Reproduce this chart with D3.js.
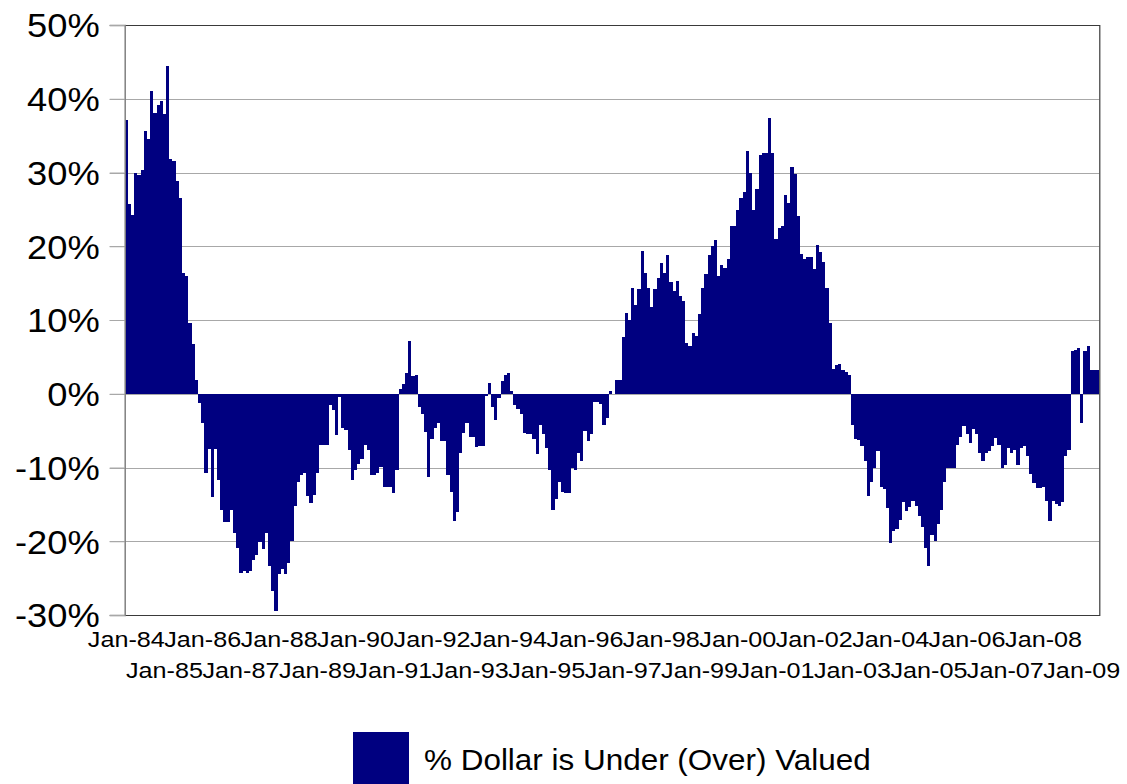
<!DOCTYPE html>
<html>
<head>
<meta charset="utf-8">
<script src="https://cdnjs.cloudflare.com/ajax/libs/d3/7.8.5/d3.min.js"></script>
<style>
  html, body { margin: 0; padding: 0; background: #fff; }
  svg { display: block; }
  text { font-family: "Liberation Sans", Arial, sans-serif; fill: #000; }
</style>
</head>
<body>
<svg id="chart" width="1127" height="784"></svg>
<script>
// Monthly categories: Jan-84 .. Jun-09
const firstMonth = new Date(1984, 0, 1);
const lastMonthExclusive = new Date(2009, 6, 1);

// % Dollar is Under (Over) Valued, one value per month
const values1984to1988 = [
  37.1, 25.7, 24.2, 30.0, 29.7, 30.4, 35.6, 34.5, 41.1, 38.1, 39.1, 39.7,
  37.9, 44.4, 31.8, 31.5, 28.8, 26.5, 16.4, 15.9, 9.6, 6.7, 1.8, -1.3,
  -3.9, -10.7, -7.5, -14.0, -7.5, -11.7, -15.8, -17.4, -17.4, -15.7, -18.9, -20.9,
  -24.3, -24.1, -24.3, -24.1, -22.6, -21.9, -20.1, -21.1, -18.9, -23.4, -26.8, -29.4,
  -24.5, -23.7, -24.4, -22.9, -20.0, -15.2, -11.9, -11.0, -10.7, -13.9, -14.8, -13.7
];
const values1989to1993 = [
  -10.7, -6.9, -6.9, -6.9, -1.5, -2.2, -5.6, -0.4, -4.7, -4.9, -7.6, -11.7,
  -10.4, -9.5, -8.8, -7.0, -7.6, -11.0, -11.0, -10.7, -9.9, -12.6, -12.6, -12.6,
  -13.5, -10.4, 0.6, 1.3, 2.8, 7.1, 2.4, 2.6, -1.8, -2.7, -5.2, -11.3,
  -6.1, -4.6, -3.9, -6.4, -6.4, -11.0, -13.3, -17.2, -16.0, -8.1, -5.3, -4.0,
  -5.8, -5.8, -7.2, -7.1, -7.1, -0.3, 1.5, -1.8, -3.6, -0.6, 1.7, 2.5
];
const values1994to1998 = [
  2.85, 0.4, -1.5, -2.0, -2.8, -5.3, -5.4, -5.5, -6.1, -8.2, -4.3, -5.5,
  -7.3, -10.4, -15.7, -14.3, -12.0, -13.3, -13.4, -13.4, -10.0, -10.3, -8.0, -9.1,
  -5.1, -6.4, -5.4, -1.1, -1.1, -1.4, -4.3, -3.3, 0.4, -0.1, 1.9, 1.9,
  7.7, 10.9, 10.0, 14.4, 12.1, 14.2, 19.4, 16.4, 14.4, 11.7, 14.2, 15.7,
  17.7, 16.4, 18.8, 15.1, 13.9, 15.3, 13.3, 12.6, 6.9, 6.5, 8.3, 7.8
];
const values1999to2003 = [
  10.8, 14.3, 16.3, 18.8, 20.0, 20.9, 16.0, 17.5, 17.0, 18.3, 22.8, 22.7,
  24.9, 26.5, 27.4, 32.9, 29.9, 24.9, 27.7, 32.4, 32.7, 32.7, 37.4, 32.6,
  21.0, 22.5, 22.8, 27.0, 25.9, 30.7, 29.8, 24.1, 18.9, 18.3, 18.6, 18.6,
  16.9, 20.2, 19.2, 17.9, 14.3, 9.6, 3.4, 3.9, 4.1, 3.2, 2.9, 2.5,
  -4.2, -6.1, -6.3, -7.1, -9.1, -13.8, -12.0, -10.1, -7.8, -12.7, -12.9, -15.5
];
const values2004to2009 = [
  -20.2, -18.6, -18.4, -17.1, -14.7, -15.9, -15.3, -14.6, -15.2, -16.6, -18.0, -20.9,
  -23.4, -19.1, -20.0, -17.7, -15.8, -11.9, -10.1, -10.0, -10.0, -7.0, -5.8, -4.4,
  -5.5, -6.7, -4.8, -5.5, -8.1, -9.1, -8.1, -7.7, -7.1, -6.0, -6.9, -10.0,
  -9.6, -7.3, -8.1, -7.6, -9.6, -7.3, -7.1, -8.5, -10.9, -12.1, -12.8, -12.8,
  -12.6, -14.6, -17.3, -14.6, -15.0, -15.2, -14.7, -8.5, -7.6, 5.8, 6.0, 6.2,
  -3.9, 5.8, 6.5, 3.2, 3.2, 3.2
];
const values = [].concat(values1984to1988, values1989to1993, values1994to1998,
                         values1999to2003, values2004to2009);

const yTicks = [-30, -20, -10, 0, 10, 20, 30, 40, 50];
const xTickLabels = ["Jan-84","Jan-85","Jan-86","Jan-87","Jan-88","Jan-89","Jan-90",
  "Jan-91","Jan-92","Jan-93","Jan-94","Jan-95","Jan-96","Jan-97","Jan-98","Jan-99",
  "Jan-00","Jan-01","Jan-02","Jan-03","Jan-04","Jan-05","Jan-06","Jan-07","Jan-08","Jan-09"];
const legendLabel = "% Dollar is Under (Over) Valued";

const months = d3.timeMonth.range(firstMonth, lastMonthExclusive);
const fmt = d3.timeFormat("%b-%y");
const data = months.map((m, i) => ({ cat: fmt(m), value: values[i] }))
                   .filter(d => d.value !== undefined);

// ---------- layout ----------
const svg = d3.select("#chart");
const plot = { left: 124.7, right: 1099.3, top: 25, bottom: 615 };

const x = d3.scaleBand()
  .domain(data.map(d => d.cat))
  .range([plot.left, plot.right])
  .padding(0);

const y = d3.scaleLinear()
  .domain([-30, 50])
  .range([plot.bottom, plot.top]);

// gridlines (behind bars)
svg.append("g")
  .selectAll("line")
  .data(yTicks)
  .join("line")
  .attr("x1", plot.left - 15)
  .attr("x2", plot.right)
  .attr("y1", d => Math.round(y(d)) + 0.5)
  .attr("y2", d => Math.round(y(d)) + 0.5)
  .attr("stroke", "#a8a8a8")
  .attr("stroke-width", 1);

// bars (snapped to whole pixels so neighbouring bars touch without seams)
const x0 = d => Math.round(x(d.cat));
const x1 = d => Math.round(x(d.cat) + x.bandwidth());
const yTop = d => Math.round(y(Math.max(0, d.value)));
const yBot = d => Math.round(y(Math.min(0, d.value)));
svg.append("g")
  .attr("shape-rendering", "crispEdges")
  .selectAll("rect")
  .data(data)
  .join("rect")
  .attr("x", x0)
  .attr("width", d => x1(d) - x0(d))
  .attr("y", yTop)
  .attr("height", d => Math.max(0, yBot(d) - yTop(d)))
  .attr("fill", "#000080");

// plot border (top, right, bottom)
svg.append("path")
  .attr("d", `M${plot.left},${plot.top + 0.5}H${plot.right + 0.5}V${plot.bottom + 0.5}H${plot.left}`)
  .attr("fill", "none")
  .attr("stroke", "#3a3a3a")
  .attr("stroke-width", 1.2);

// value axis
const yAxis = d3.axisLeft(y)
  .tickValues(yTicks)
  .tickFormat(d => d + "%")
  .tickSize(15)
  .tickPadding(10);
const gy = svg.append("g")
  .attr("transform", `translate(${plot.left},0)`)
  .call(yAxis);
gy.select(".domain").attr("stroke", "#808080").attr("stroke-width", 1.5);
gy.selectAll(".tick line").attr("stroke", "#a8a8a8");
gy.selectAll(".tick text")
  .attr("font-size", 33)
  .attr("font-family", "Liberation Sans, Arial, sans-serif")
  .attr("fill", "#000")
  .attr("dy", "0.36em")
  .each(function () {
    const t = d3.select(this);
    const xx = +t.attr("x");
    t.attr("x", null).attr("transform", `translate(${xx},0) scale(1.1,1)`);
  });

// category axis labels (every 12 months, staggered)
const xAxis = d3.axisBottom(x)
  .tickValues(xTickLabels)
  .tickSize(0)
  .tickPadding(0);
const gx = svg.append("g")
  .attr("transform", `translate(0,${plot.bottom})`)
  .call(xAxis);
gx.select(".domain").remove();
gx.selectAll(".tick text")
  .attr("font-size", 22.5)
  .attr("font-family", "Liberation Sans, Arial, sans-serif")
  .attr("fill", "#000")
  .attr("dy", null)
  .attr("y", null)
  .attr("transform", (d, i) => `translate(0,${i % 2 === 0 ? 32 : 63}) scale(1.12,1)`);

// legend
const legend = svg.append("g");
legend.append("rect")
  .attr("x", 353).attr("y", 732)
  .attr("width", 56).attr("height", 60)
  .attr("fill", "#000080");
legend.append("text")
  .attr("transform", "translate(424,770) scale(1.1,1)")
  .attr("font-size", 28.6)
  .text(legendLabel);
</script>
</body>
</html>
